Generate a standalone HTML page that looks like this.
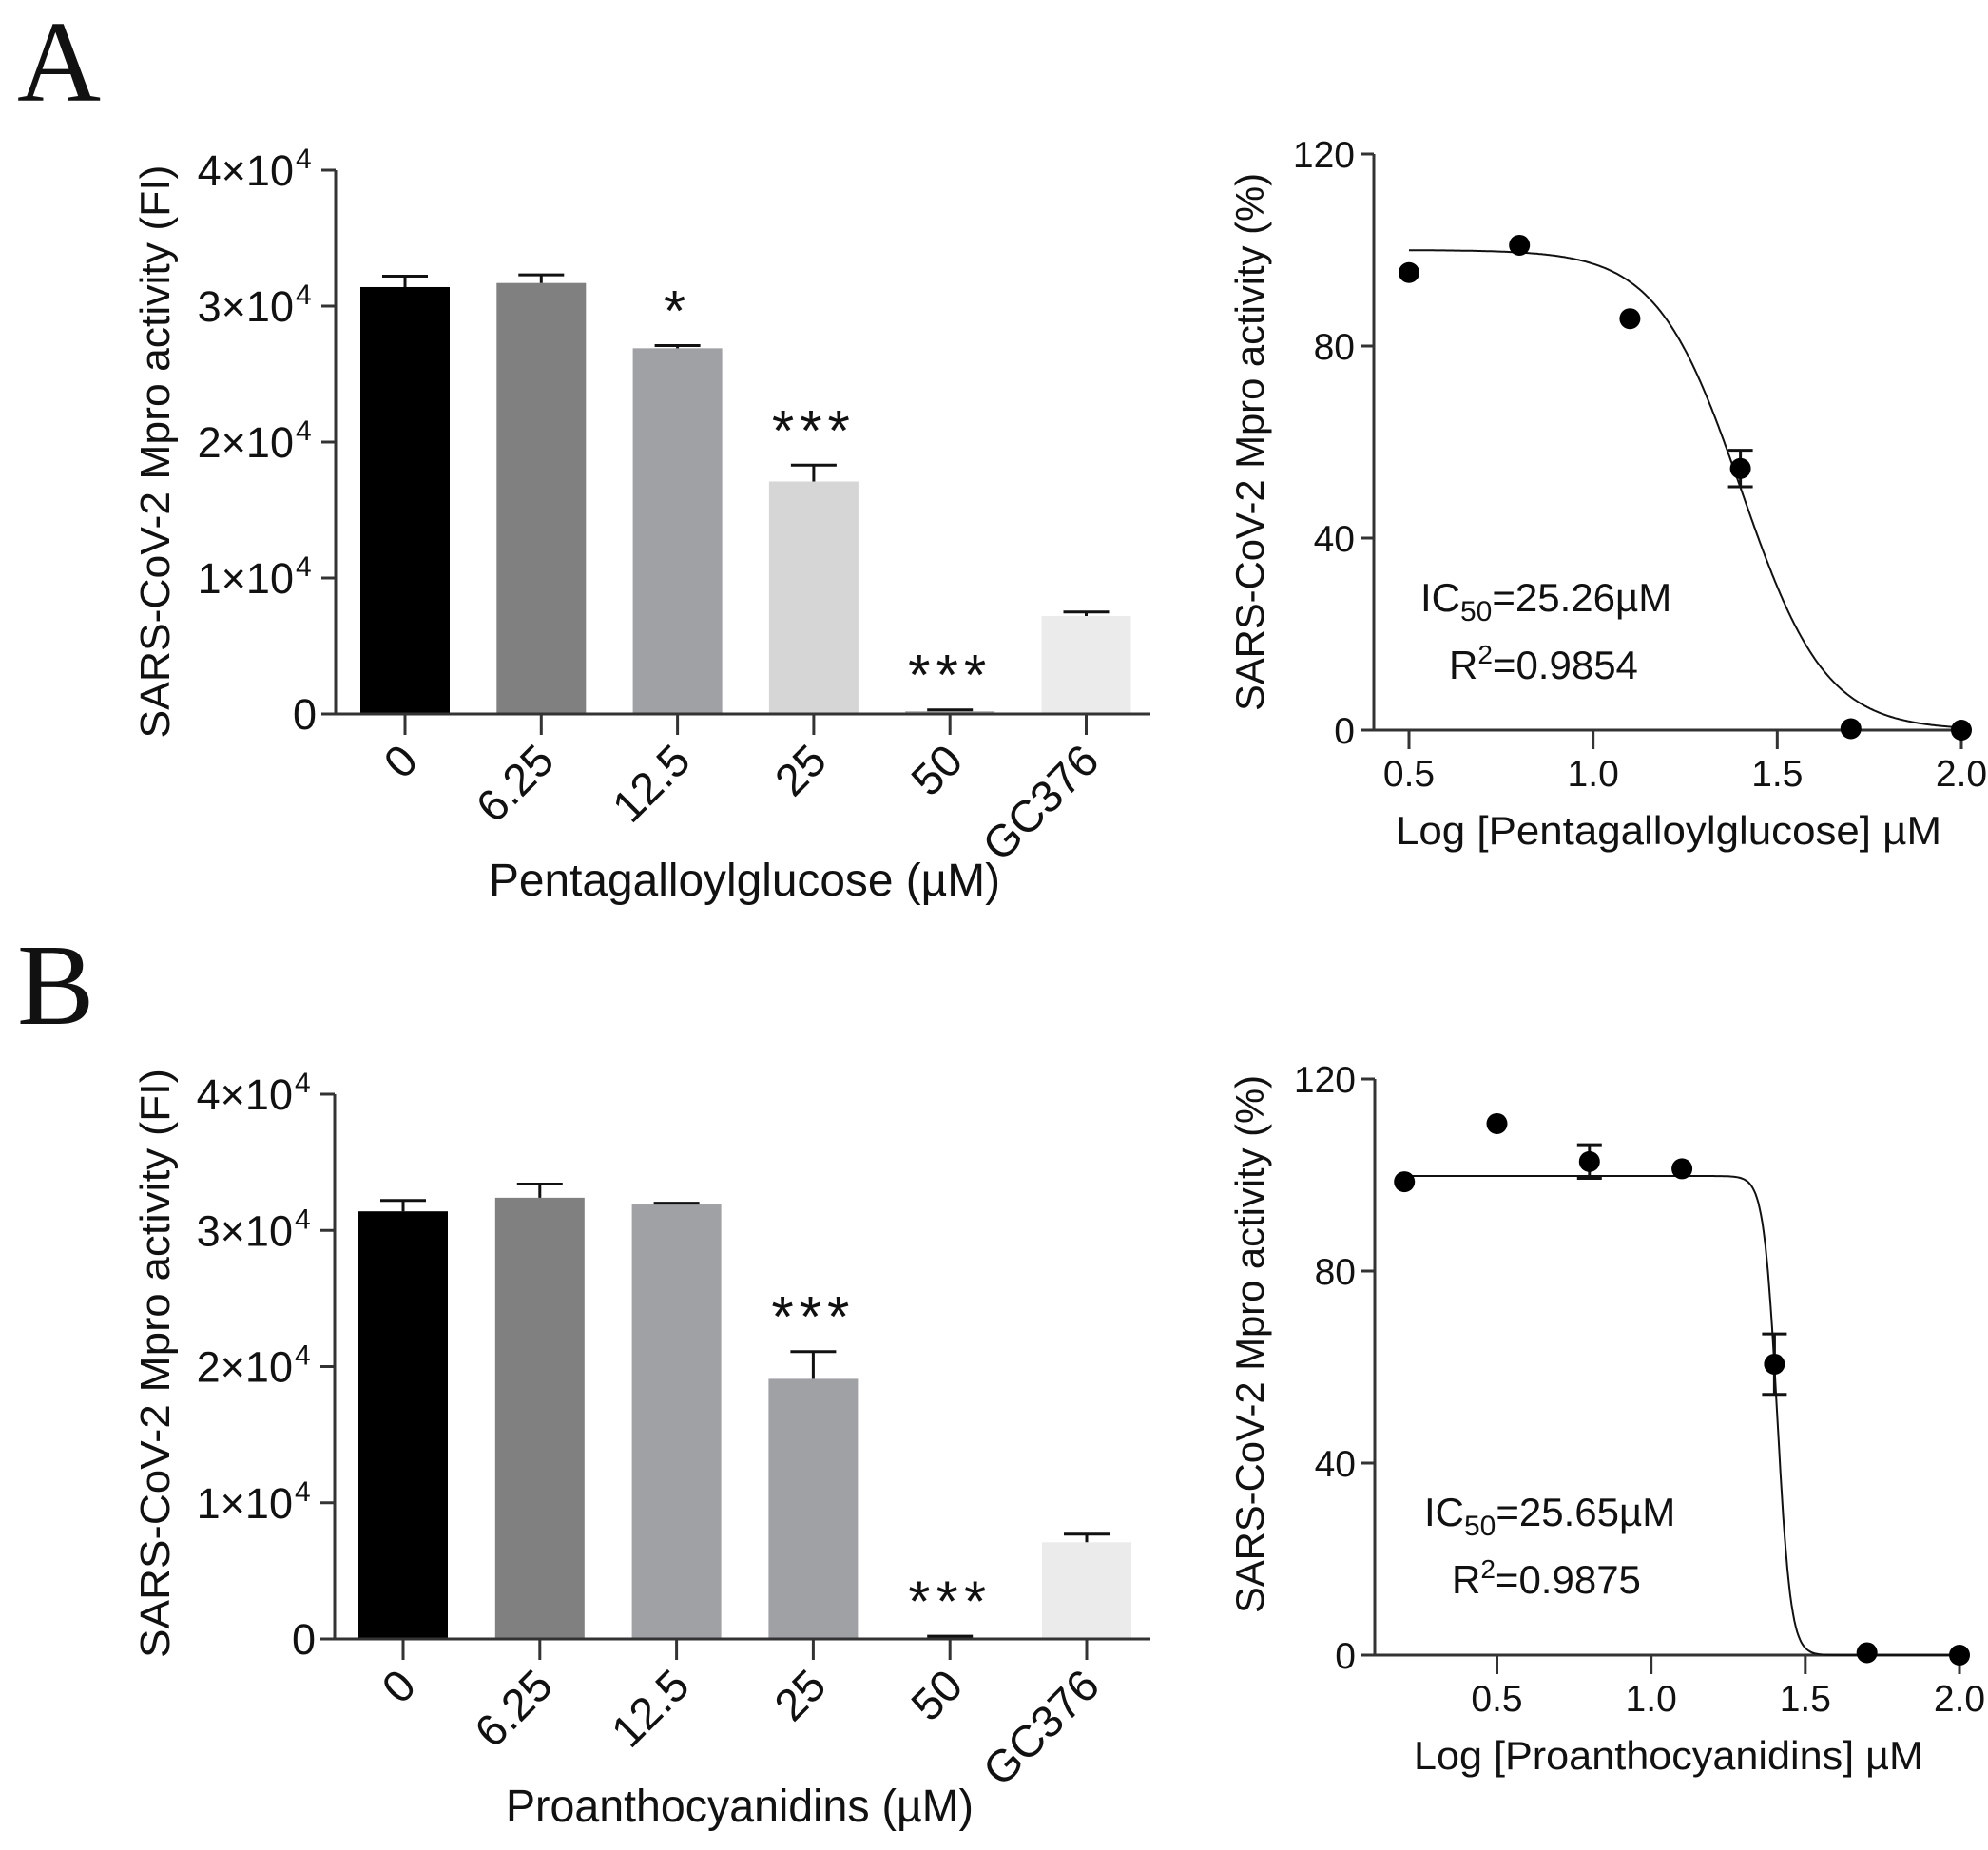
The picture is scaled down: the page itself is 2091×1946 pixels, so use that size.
<!DOCTYPE html>
<html><head><meta charset="utf-8"><style>
html,body{margin:0;padding:0;background:#fff}
svg{display:block}
text{font-family:"Liberation Sans",Arial,sans-serif;fill:#111}
</style></head><body>
<svg id="fig" width="2091" height="1946" viewBox="0 0 2091 1946" xmlns="http://www.w3.org/2000/svg">
<text x="18" y="106" style="font-family:'Liberation Serif',serif;font-size:122px">A</text>
<text x="18" y="1077" style="font-family:'Liberation Serif',serif;font-size:122px">B</text>
</svg>
<script>
// ---- Bar chart data ----
const barCategories = ["0","6.25","12.5","25","50","GC376"];
const barValuesA = [3.14, 3.17, 2.69, 1.71, 0.02, 0.72];
const barErrorsA = [0.08, 0.06, 0.02, 0.12, 0.01, 0.03];
const barSigA = ["", "", "*", "***", "***", ""];
const barColorsA = ["#000000","#808080","#a0a1a5","#d6d6d6","#b0b0b0","#ebebeb"];
const barValuesB = [3.14, 3.24, 3.19, 1.91, 0.01, 0.71];
const barErrorsB = [0.08, 0.10, 0.01, 0.20, 0.01, 0.06];
const barSigB = ["", "", "", "***", "***", ""];
const barColorsB = ["#000000","#808080","#a0a1a5","#a0a1a5","#a0a1a5","#ebebeb"];
const barTicks = [0,1,2,3,4];
const barTickLabels = ["0","1×10","2×10","3×10","4×10"];
// ---- Dose-response data ----
const doseXA = [0.5, 0.8, 1.1, 1.4, 1.7, 2.0];
const doseYA = [95.3, 101, 85.7, 54.5, 0.3, 0];
const doseErrA = [0, 0, 0, 3.8, 0, 0];
const fitA = [100, 0, 1.4024, 3.8]; // top, bottom, logIC50, hill
const doseXB = [0.2, 0.5, 0.8, 1.1, 1.4, 1.7, 2.0];
const doseYB = [98.6, 110.7, 102.8, 101.3, 60.6, 0.5, 0];
const doseErrB = [0, 0, 3.5, 0, 6.3, 0, 0];
const fitB = [99.8, 0, 1.409, 20];
const doseYTicks = [0, 40, 80, 120];
const doseXTicks = [0.5, 1.0, 1.5, 2.0];

const NS="http://www.w3.org/2000/svg";
const svg=document.getElementById('fig');
function mk(tag,attrs,parent,txt){const e=document.createElementNS(NS,tag);for(const k in attrs)e.setAttribute(k,attrs[k]);if(txt!==undefined)e.textContent=txt;(parent||svg).appendChild(e);return e;}

function barChart(o){
  const g=mk('g',{});
  
  
  const y=v=>o.y0-(v/4)*(o.y0-o.y4);
  const x=i=>o.x0+i*o.step;
  o.vals.forEach((v,i)=>{
    const r=mk('rect',{x:x(i)-47,y:y(v),width:94,height:o.y0-y(v),fill:o.colors[i]},g);
    
    
    const top=y(v+o.errs[i]);
    const eb=mk('path',{d:`M${x(i)},${y(v)}V${top}M${x(i)-24},${top}H${x(i)+24}`,stroke:'#111','stroke-width':3,fill:'none'},g);
    
    
    if(o.sig[i]){
      const s=mk('text',{x:x(i),y:top-50+34,'text-anchor':'middle','font-size':60,'letter-spacing':6},g,o.sig[i]);
      
      
    }
  });
  const ax=mk('path',{d:`M${o.ax},${o.y4}V${o.y0}M${o.ax-15},${o.y0}H1210`,stroke:'#333','stroke-width':3,fill:'none'},g);
  
  
  barTicks.forEach((t,i)=>{
    mk('path',{d:`M${o.ax-15},${y(t)}H${o.ax}`,stroke:'#333','stroke-width':3},g);
    const tl=mk('text',{x:t===0?o.ax-20:o.ax-44,y:y(t)+16,'text-anchor':'end','font-size':45},g,barTickLabels[i]);
    
    
    if(t!==0){const sp=mk('text',{x:o.ax-42,y:y(t)-2,'text-anchor':'start','font-size':30},g,'4');
      
      }
  });
  o.cats.forEach((c,i)=>{
    mk('path',{d:`M${x(i)},${o.y0}V${o.y0+22}`,stroke:'#333','stroke-width':3},g);
    const px=x(i)+16,py=o.y0+52;
    const tl=mk('text',{x:px,y:py,'text-anchor':'end','font-size':47,transform:`rotate(-45 ${px} ${py})`},g,c);
    
    
  });
  const xt=mk('text',{x:o.xtx,y:o.xty,'font-size':48,textLength:o.xtw,lengthAdjust:'spacingAndGlyphs'},g,o.xtitle);
  
  
  const yt=mk('text',{x:0,y:0,'text-anchor':'middle','font-size':44,textLength:o.ytw,lengthAdjust:'spacingAndGlyphs',transform:`translate(178 ${o.ytc}) rotate(-90)`},g,'SARS-CoV-2 Mpro activity (FI)');
  
  
}

function doseChart(o){
  const g=mk('g',{});
  
  
  const X=v=>o.x05+(v-0.5)*(o.x20-o.x05)/1.5;
  const Y=v=>o.y0-v/120*(o.y0-o.y120);
  const ax=mk('path',{d:`M${o.ax},${o.y120}V${o.y0}H${X(2.0)+4}`,stroke:'#333','stroke-width':3,fill:'none'},g);
  
  
  doseYTicks.forEach(t=>{
    mk('path',{d:`M${o.ax-14},${Y(t)}H${o.ax}`,stroke:'#333','stroke-width':3},g);
    const tl=mk('text',{x:o.ax-20,y:Y(t)+14,'text-anchor':'end','font-size':39},g,String(t));
    
    
  });
  doseXTicks.forEach(t=>{
    mk('path',{d:`M${X(t)},${o.y0}V${o.y0+20}`,stroke:'#333','stroke-width':3},g);
    const tl=mk('text',{x:X(t),y:o.y0+59,'text-anchor':'middle','font-size':39},g,t.toFixed(1));
    
    
  });
  const [top,bot,lic,h]=o.fit;let d='';
  const xs=o.xs[0],xe=o.xs[o.xs.length-1];
  for(let k=0;k<=400;k++){const lx=xs+(xe-xs)*k/400;const v=bot+(top-bot)/(1+Math.pow(10,(lx-lic)*h));d+=(k?'L':'M')+X(lx).toFixed(1)+','+Y(v).toFixed(1);}
  const c=mk('path',{d:d,stroke:'#111','stroke-width':2,fill:'none'},g);
  
  
  o.xs.forEach((xv,i)=>{
    if(o.errs[i]>0){
      const t=Y(o.ys[i]+o.errs[i]),b=Y(o.ys[i]-o.errs[i]),cx=X(xv);
      const eb=mk('path',{d:`M${cx},${t}V${b}M${cx-13},${t}H${cx+13}M${cx-13},${b}H${cx+13}`,stroke:'#111','stroke-width':3,fill:'none'},g);
      
      
    }
    const p=mk('circle',{cx:X(xv),cy:Y(o.ys[i]),r:11,fill:'#000'},g);
    
    
  });
  const ic=mk('text',{x:o.icx,y:o.icy,'font-size':42},g);
  
  
  ic.innerHTML='IC<tspan font-size="30" dy="10">50</tspan><tspan dy="-10">'+o.ic+'</tspan>';
  const r2=mk('text',{x:o.r2x,y:o.icy+71,'font-size':42},g);
  
  
  r2.innerHTML='R<tspan font-size="28" dy="-16">2</tspan><tspan dy="16">'+o.r2+'</tspan>';
  const xt=mk('text',{x:o.xtx,y:o.y0+120,'font-size':42,textLength:o.xtw,lengthAdjust:'spacingAndGlyphs'},g,o.xtitle);
  
  
  const yt=mk('text',{x:0,y:0,'text-anchor':'middle','font-size':42,textLength:o.ytw,lengthAdjust:'spacingAndGlyphs',transform:`translate(1329 ${o.ytc}) rotate(-90)`},g,'SARS-CoV-2 Mpro activity (%)');
  
  
}

barChart({name:'bar-chart-a',vals:barValuesA,errs:barErrorsA,sig:barSigA,colors:barColorsA,cats:barCategories,
  y0:751,y4:179,x0:426,step:143.3,ax:353,xtx:514,xty:942,xtw:538,xtitle:'Pentagalloylglucose (µM)',ytc:475,ytw:603});
barChart({name:'bar-chart-b',vals:barValuesB,errs:barErrorsB,sig:barSigB,colors:barColorsB,cats:barCategories,
  y0:1724,y4:1151,x0:424,step:143.8,ax:352,xtx:532,xty:1916,xtw:492,xtitle:'Proanthocyanidins (µM)',ytc:1434,ytw:620});
doseChart({name:'dose-response-a',xs:doseXA,ys:doseYA,errs:doseErrA,fit:fitA,x05:1482,x20:2063,ax:1445,y0:768,y120:162,
  icx:1494,icy:643,r2x:1524,ic:'=25.26µM',r2:'=0.9854',xtx:1468,xtw:574,xtitle:'Log [Pentagalloylglucose] µM',ytc:465,ytw:566});
doseChart({name:'dose-response-b',xs:doseXB,ys:doseYB,errs:doseErrB,fit:fitB,x05:1574.5,x20:2061,ax:1446,y0:1741,y120:1135,
  icx:1498,icy:1605,r2x:1527,ic:'=25.65µM',r2:'=0.9875',xtx:1487,xtw:536,xtitle:'Log [Proanthocyanidins] µM',ytc:1414,ytw:566});
</script>
</body></html>
